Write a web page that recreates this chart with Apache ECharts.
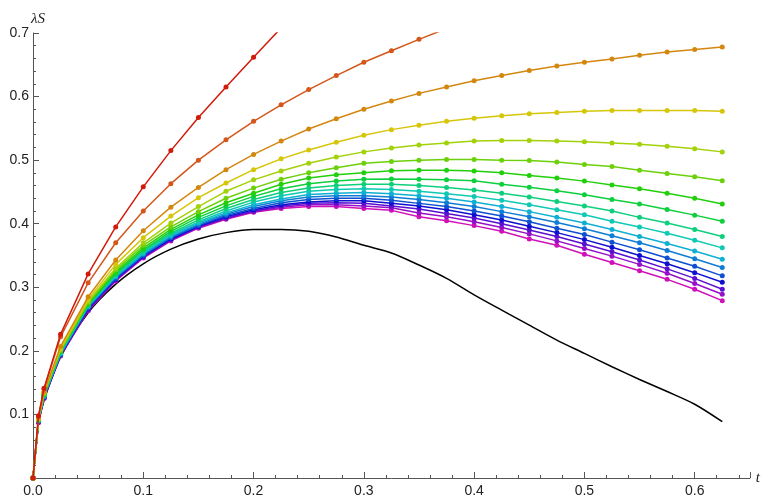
<!DOCTYPE html>
<html><head><meta charset="utf-8">
<script src="https://cdn.jsdelivr.net/npm/echarts@6/dist/echarts.min.js"></script>
<style>html,body{margin:0;padding:0;background:#fff}#c{width:763px;height:502px}</style>
</head><body><div id="c"></div>
<script>
const tValues = [0,0.005,0.01,0.025,0.05,0.075,0.1,0.125,0.15,0.175,0.2,0.225,0.25,0.275,0.3,0.325,0.35,0.375,0.4,0.425,0.45,0.475,0.5,0.525,0.55,0.575,0.6,0.625];
const s01 = [0,.098,.141,.226,.321,.395,.458,.515,.567,.615,.662,.708];
const s02 = [0,.097,.140,.222,.307,.370,.420,.463,.500,.532,.561,.587,.611,.633,.654,.672,.690,.707];
const s03 = [0,.095,.136,.207,.285,.343,.389,.426,.457,.485,.509,.530,.549,.565,.580,.593,.605,.615,.625,.633,.641,.648,.654,.659,.665,.670,.674,.678];
const s04 = [0,.094,.135,.204,.281,.336,.378,.412,.441,.464,.485,.502,.516,.528,.539,.548,.555,.561,.566,.570,.573,.575,.577,.578,.578,.578,.578,.577];
const s05 = [0,.093,.134,.202,.278,.330,.370,.401,.427,.451,.469,.483,.495,.505,.513,.519,.524,.527,.530,.531,.531,.530,.529,.527,.525,.522,.518,.513];
const s06 = [0,.093,.133,.201,.276,.327,.366,.395,.419,.440,.456,.470,.480,.488,.495,.498,.500,.501,.501,.500,.4995,.497,.493,.490,.484,.479,.474,.4675];
const s07 = [0,.092,.132,.200,.275,.324,.362,.391,.414,.433,.448,.462,.472,.477,.480,.4835,.484,.484,.483,.480,.476,.472,.467,.461,.455,.448,.440,.431];
const s08 = [0,.092,.131,.199,.273,.322,.359,.388,.410,.428,.443,.455,.463,.467,.470,.4705,.470,.469,.4675,.462,.4575,.452,.4455,.438,.431,.4225,.4135,.404];
const s09 = [0,.091,.130,.198,.272,.320,.357,.385,.406,.424,.438,.449,.456,.460,.462,.462,.460,.457,.453,.448,.442,.435,.428,.420,.410,.401,.391,.380];
const s10 = [0,.091,.130,.197,.271,.318,.355,.383,.403,.420,.434,.444,.451,.454,.455,.454,.451,.447,.443,.437,.430,.422,.414,.404,.395,.385,.374,.362];
const s11 = [0,.090,.129,.196,.270,.317,.353,.381,.401,.417,.430,.439,.446,.448,.449,.447,.444,.440,.434,.427,.419,.410,.401,.391,.380,.369,.357,.344];
const s12 = [0,.090,.128,.195,.269,.316,.352,.379,.399,.415,.427,.436,.442,.444,.444,.442,.438,.433,.427,.419,.411,.402,.392,.381,.370,.358,.345,.331];
const s13 = [0,.089,.128,.194,.268,.314,.350,.378,.397,.413,.424,.433,.438,.440,.440,.437,.432,.427,.420,.412,.403,.393,.383,.371,.359,.346,.333,.318];
const s14 = [0,.089,.127,.194,.267,.313,.349,.376,.396,.411,.422,.430,.434,.436,.436,.432,.428,.422,.414,.406,.396,.386,.375,.363,.350,.337,.323,.308];
const s15 = [0,.088,.126,.193,.265,.312,.348,.375,.395,.409,.420,.428,.432,.433,.432,.428,.423,.416,.409,.400,.390,.380,.368,.356,.343,.329,.314,.297];
const s16 = [0,.088,.126,.193,.264,.311,.347,.374,.394,.408,.419,.426,.430,.430,.428,.425,.417,.411,.403,.394,.384,.373,.361,.349,.336,.322,.306,.289];
const s17 = [0,.087,.125,.192,.263,.310,.346,.373,.393,.407,.418,.424,.427,.427,.424,.421,.411,.4045,.397,.388,.376,.366,.352,.339,.326,.3125,.297,.279];
const sBlack = [0,.085,.122,.190,.260,.305,.337,.360,.376,.386,.391,.391,.388,.379,.366,.354,.335,.314,.288,.264,.2405,.217,.196,.175,.155,.136,.116,.0885];
const colors = ['#d21a0a','#d4561a','#d4870f','#d6c60a','#a3d10a','#6cd00a','#22cf0a','#0fcf3e','#0fcf7d','#0fc9b4','#0fb0d2','#0f7dd6','#0f4fd2','#100fd0','#5a10d0','#9610c8','#d010b8'];
const seriesList = [s01,s02,s03,s04,s05,s06,s07,s08,s09,s10,s11,s12,s13,s14,s15,s16,s17];
const pair = arr => arr.map((v,i)=>[tValues[i],v]);
const series = seriesList.map((arr,i)=>({
  type:'line', data:pair(arr), symbol:'circle', symbolSize:5, clip:true,
  lineStyle:{width:1.5,color:colors[i]}, itemStyle:{color:colors[i]}, z:20-i
}));
series.push({type:'line',data:pair(sBlack),symbol:'none',smooth:0.3,lineStyle:{width:1.5,color:'#000'},z:1});
const chart = echarts.init(document.getElementById('c'));
const axisCommon = {
  axisLine:{lineStyle:{color:'#555',width:1}},
  axisTick:{inside:true,length:6,lineStyle:{color:'#555'}},
  minorTick:{show:true,splitNumber:5,length:3,lineStyle:{color:'#555'}},
  splitLine:{show:false},
  axisLabel:{color:'#222',fontSize:14,fontFamily:'Liberation Sans',formatter:v=>v.toFixed(1)}
};
chart.setOption({
  animation:false,
  grid:{left:33,right:11,top:33,bottom:24,containLabel:false},
  xAxis:Object.assign({type:'value',min:0,max:0.65,interval:0.1,name:'t',nameGap:6,
    nameTextStyle:{fontStyle:'italic',fontSize:15,color:'#222',fontFamily:'Liberation Serif',padding:[0,0,20,0]}},axisCommon,
    {axisLabel:Object.assign({},axisCommon.axisLabel,{showMaxLabel:false,margin:6})}),
  yAxis:Object.assign({type:'value',min:0,max:0.7,interval:0.1,name:'λS',nameGap:6,
    nameTextStyle:{fontStyle:'italic',fontSize:15,color:'#222',fontFamily:'Liberation Serif',align:'center',padding:[0,0,0,10]}},axisCommon,
    {axisLabel:Object.assign({},axisCommon.axisLabel,{showMinLabel:false,margin:4,formatter:v=>v===0?'':v.toFixed(1)})}),
  series
});
</script></body></html>
